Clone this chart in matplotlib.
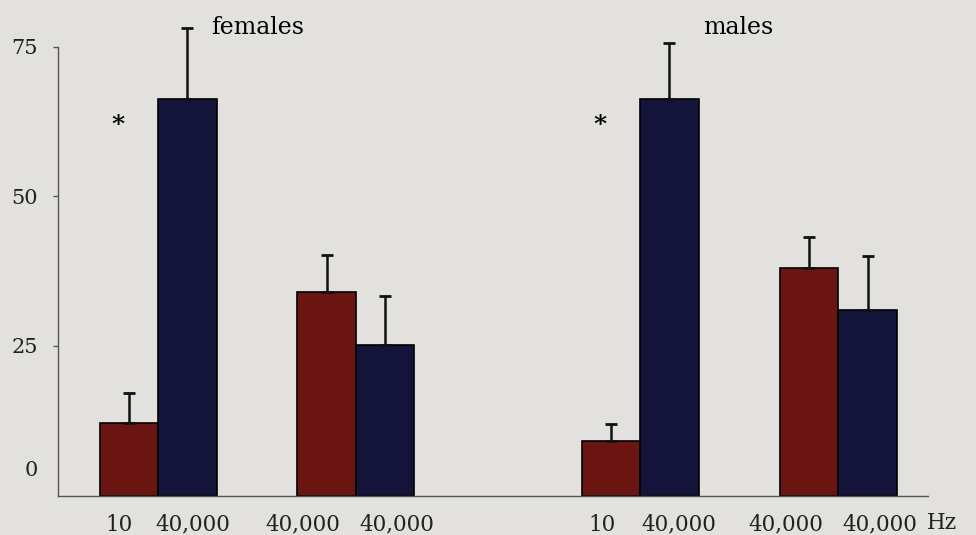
import matplotlib.pyplot as plt
import matplotlib.transforms as mtransforms

# dados
rotulos = ['10', '40,000', '40,000', '40,000', '10', '40,000', '40,000', '40,000']
valores = [12.1, 66.3, 34.0, 25.2, 9.1, 66.3, 38.0, 31.0]
erros = [5.0, 11.9, 6.2, 8.2, 2.9, 9.4, 5.2, 9.0]
cores_barras = ['#6b1512', '#14143a', '#6b1512', '#14143a',
                '#6b1512', '#14143a', '#6b1512', '#14143a']
grupos = ['females', 'males']
yticks = [25, 50, 75]

# posicoes das barras (pares encostados) e dos rotulos
pos = [0, 1, 3.38, 4.38, 8.24, 9.24, 11.63, 12.63]
pos_rotulos = [-0.17, 1.09, 2.97, 4.58, 8.09, 9.40, 11.23, 12.84]

fundo = '#e3e1dd'
plt.rcParams['font.family'] = 'DejaVu Serif'

fig = plt.figure(figsize=(9.76, 5.35), dpi=100, facecolor=fundo)
ax = fig.add_axes([58 / 976, 1 - 495.5 / 535, (928 - 58) / 976, (495.5 - 17) / 535])
ax.set_facecolor(fundo)

ax.bar(pos, valores, width=1.0, color=cores_barras, edgecolor='black', linewidth=1.2, zorder=2)
ax.errorbar(pos, valores, yerr=[[0] * len(erros), erros], fmt='none',
            ecolor='#111111', elinewidth=1.8, capsize=4, capthick=2, zorder=3)

ax.set_xlim(-1.21, 13.66)
ax.set_ylim(0, 80)

# eixos
for lado in ['top', 'right']:
    ax.spines[lado].set_visible(False)
ax.spines['left'].set_bounds(0, 75)
ax.spines['left'].set_color('#555555')
ax.spines['bottom'].set_color('#555555')
ax.spines['left'].set_linewidth(1.0)
ax.spines['bottom'].set_linewidth(1.0)

ax.set_yticks(yticks)
ax.set_yticklabels([str(v) for v in yticks], fontsize=15, color='#222222')
ax.tick_params(axis='y', length=3.6, width=1, color='#555555', pad=11)
ax.text(-0.023, 4.2, '0', transform=mtransforms.blended_transform_factory(ax.transAxes, ax.transData),
        fontsize=15, color='#222222', ha='right', va='center')

ax.set_xticks(pos_rotulos)
ax.set_xticklabels(rotulos, fontsize=15.5, color='#222222')
ax.tick_params(axis='x', length=0, pad=13)

# unidade no fim do eixo x
trans = mtransforms.blended_transform_factory(ax.transData, ax.transAxes)
ax.text(13.9, -0.058, 'Hz', transform=trans, fontsize=15.5, color='#222222',
        ha='center', va='center', clip_on=False)

# asteriscos
ax.text(-0.19, 62.0, '*', fontsize=18, fontweight='bold', ha='center', va='center')
ax.text(8.05, 62.0, '*', fontsize=18, fontweight='bold', ha='center', va='center')

# nomes dos grupos
ax.text(2.2, 78.2, grupos[0], fontsize=17, ha='center', va='center', clip_on=False)
ax.text(10.41, 78.2, grupos[1], fontsize=17, ha='center', va='center', clip_on=False)

plt.savefig('out.png', dpi=100, facecolor=fundo)
